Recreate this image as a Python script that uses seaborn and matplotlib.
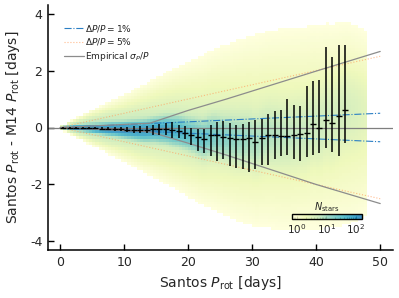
import numpy as np
import matplotlib
matplotlib.use("Agg")
import matplotlib.pyplot as plt
from matplotlib.colors import LogNorm, ListedColormap
import seaborn as sns

# ---------------- data ----------------
# running-median bins (days)
bin_P = [0.5, 1.5, 2.5, 3.5, 4.5, 5.5, 6.5, 7.5, 8.5, 9.5,
         10.5, 11.5, 12.5, 13.5, 14.5, 15.5, 16.5, 17.5, 18.5, 19.5,
         20.5, 21.5, 22.5, 23.5, 24.5, 25.5, 26.5, 27.5, 28.5, 29.5,
         30.5, 31.5, 32.5, 33.5, 34.5, 35.5, 36.5, 37.5, 38.5, 39.5,
         40.5, 41.5, 42.5, 43.5, 44.5]
bin_median = [0.00, -0.01, -0.01, -0.02, -0.02, -0.03, -0.04, -0.05, -0.06, -0.07,
              -0.08, -0.09, -0.10, -0.10, -0.07, -0.07, -0.07, -0.10, -0.13, -0.19,
              -0.25, -0.33, -0.40, -0.28, -0.28, -0.33, -0.36, -0.40, -0.40, -0.37,
              -0.51, -0.36, -0.26, -0.28, -0.30, -0.30, -0.26, -0.22, -0.19, 0.13,
              0.00, 0.28, 0.16, 0.40, 0.61]
bin_upper = [0.01, 0.01, 0.02, 0.02, 0.02, 0.02, 0.02, 0.02, 0.02, 0.03,
             0.03, 0.04, 0.05, 0.07, 0.10, 0.14, 0.16, 0.19, 0.10, 0.05,
             0.00, -0.05, -0.07, 0.10, 0.19, 0.22, 0.16, 0.10, 0.14, 0.19,
             0.26, 0.31, 0.49, 0.57, 0.63, 1.00, 0.80, 0.77, 1.47, 1.63,
             1.68, 2.82, 2.47, 2.88, 2.91]
bin_lower = [-0.01, -0.02, -0.03, -0.04, -0.05, -0.06, -0.08, -0.10, -0.12, -0.14,
             -0.16, -0.18, -0.21, -0.21, -0.25, -0.28, -0.28, -0.36, -0.36, -0.42,
             -0.60, -0.83, -0.89, -1.00, -1.18, -1.12, -1.36, -1.41, -1.45, -1.57,
             -1.45, -1.30, -1.30, -1.10, -1.00, -0.95, -1.12, -1.16, -1.03, -0.98,
             -0.91, -0.71, -0.87, -1.01, -0.54]

# empirical sigma_P/P envelope
emp_P = [0.0, 14.0, 20.0, 26.0, 40.0, 50.0]
emp_upper = [0.0, 0.15, 0.60, 1.00, 1.98, 2.67]
emp_lower = [0.0, -0.15, -0.55, -0.97, -2.00, -2.67]

# fractional reference lines
ref_P = [0.0, 50.0]
frac_1 = 0.01
frac_5 = 0.05

# estimated density profile of the 2-D histogram (stars per cell)
dens_P = [0, 1, 3, 6, 10, 15, 20, 25, 30, 35, 40, 45, 48]
core_width = [0.01, 0.02, 0.04, 0.07, 0.11, 0.17, 0.26, 0.38, 0.5, 0.6, 0.7, 0.8, 0.85]
core_peak = [30, 200, 200, 180, 150, 90, 35, 14, 7, 4, 3, 2, 1]
halo_width = [0.03, 0.07, 0.15, 0.28, 0.45, 0.7, 0.95, 1.2, 1.45, 1.6, 1.7, 1.8, 1.8]
halo_peak = [2, 10, 10, 8, 6, 4.5, 3.5, 2.6, 2.0, 1.6, 1.3, 1.1, 0.8]
wide_extent = [0.05, 0.1, 0.25, 0.5, 0.85, 1.3, 1.8, 2.3, 2.6, 2.8, 2.8, 2.7, 2.4]

cbar_ticks = [1, 10, 100]

# ---------------- build the histogram grid ----------------
x_edges = np.arange(0.0, 48.01, 0.5)
y_edges = np.arange(-4.3, 4.31, 0.1)
xc = 0.5 * (x_edges[:-1] + x_edges[1:])
yc = 0.5 * (y_edges[:-1] + y_edges[1:])
XX, YY = np.meshgrid(xc, yc)
thresh = 0.72


def prof(arr):
    return np.interp(XX, dens_P, arr)


center = np.interp(XX, bin_P, bin_median)
wide_w = prof(wide_extent) / np.sqrt(2 * np.log(1.0 / thresh))
counts = (prof(core_peak) * np.exp(-0.5 * ((YY - center) / prof(core_width)) ** 2)
          + prof(halo_peak) * np.exp(-0.5 * ((YY - 0.5 * center) / prof(halo_width)) ** 2)
          + 1.0 * np.exp(-0.5 * (YY / wide_w) ** 2))
counts = np.ma.masked_less(counts, thresh)

# ---------------- plotting ----------------
sns.set_theme(style="ticks")
plt.rcParams["font.family"] = ["DejaVu Sans"]
plt.rcParams["axes.unicode_minus"] = False
plt.rcParams["mathtext.default"] = "it"

fig = plt.figure(figsize=(3.99, 2.98), dpi=100)
ax = fig.add_axes([48 / 399, 48 / 298, 345 / 399, 245 / 298])

base = sns.color_palette("YlGnBu", 256)
cmap = ListedColormap(base[:175])
norm = LogNorm(vmin=0.7, vmax=160)
mesh = ax.pcolormesh(x_edges, y_edges, counts, cmap=cmap, norm=norm,
                     shading="flat", zorder=1, rasterized=True, alpha=0.85)

ax.axhline(0, color="#7f7f7f", lw=0.9, zorder=2)

ref_P_arr = np.array(ref_P)
blue = "#2a7fc4"
orange = "#ffa060"
grey = "#8c8c8c"
sns.lineplot(x=ref_P, y=list(frac_1 * ref_P_arr), ax=ax, color=blue, lw=0.8,
             linestyle="-.", label=r"$\Delta P/P = 1\%$", zorder=3)
sns.lineplot(x=ref_P, y=list(-frac_1 * ref_P_arr), ax=ax, color=blue, lw=0.8,
             linestyle="-.", zorder=3)
sns.lineplot(x=ref_P, y=list(frac_5 * ref_P_arr), ax=ax, color=orange, lw=0.8,
             alpha=0.7, linestyle=":", label=r"$\Delta P/P = 5\%$", zorder=3)
sns.lineplot(x=ref_P, y=list(-frac_5 * ref_P_arr), ax=ax, color=orange, lw=0.8,
             alpha=0.7, linestyle=":", zorder=3)
sns.lineplot(x=emp_P, y=emp_upper, ax=ax, color=grey, lw=0.9,
             label=r"Empirical $\sigma_P/P$", zorder=3)
sns.lineplot(x=emp_P, y=emp_lower, ax=ax, color=grey, lw=0.9, zorder=3)

med = np.array(bin_median)
yerr = np.vstack([med - np.array(bin_lower), np.array(bin_upper) - med])
ax.errorbar(bin_P, bin_median, yerr=yerr, fmt="_", color="black", ms=4.5,
            mew=1.0, elinewidth=1.1, capsize=0, zorder=5)

ax.set_xlim(-1.9, 52.0)
ax.set_ylim(-4.3, 4.3)
ax.set_xticks([0, 10, 20, 30, 40, 50])
ax.set_yticks([-4, -2, 0, 2, 4])
ax.tick_params(direction="in", length=4.5, width=1, labelsize=9, color="black", pad=4)
for s in ["top", "right"]:
    ax.spines[s].set_visible(False)
for s in ["left", "bottom"]:
    ax.spines[s].set_linewidth(1.1)
    ax.spines[s].set_color("black")
ax.set_xlabel(r"Santos $P_{\rm rot}$ [days]", fontsize=10, labelpad=4)
ax.set_ylabel(r"Santos $P_{\rm rot}$ - M14 $P_{\rm rot}$ [days]", fontsize=10, labelpad=6)

leg = ax.legend(loc="upper left", bbox_to_anchor=(0.03, 0.95), frameon=False,
                fontsize=6.5, handlelength=2.2, handletextpad=0.1, labelspacing=0.3,
                borderaxespad=0.2)

cax = fig.add_axes([292 / 399, 1 - 219 / 298, 70 / 399, 5 / 298])
cb = fig.colorbar(mesh, cax=cax, orientation="horizontal")
cb.set_ticks(cbar_ticks)
cb.solids.set_alpha(0.85)
cax.tick_params(which="both", direction="in", labelsize=7.5, color="black", pad=2)
cax.tick_params(which="major", length=2.5, width=0.8)
cax.tick_params(which="minor", length=1.5, width=0.6)
cb.outline.set_linewidth(1.0)
cb.outline.set_edgecolor("black")
cax.set_title(r"$N_{\rm stars}$", fontsize=7, pad=3)

fig.savefig("out.png", dpi=100)
